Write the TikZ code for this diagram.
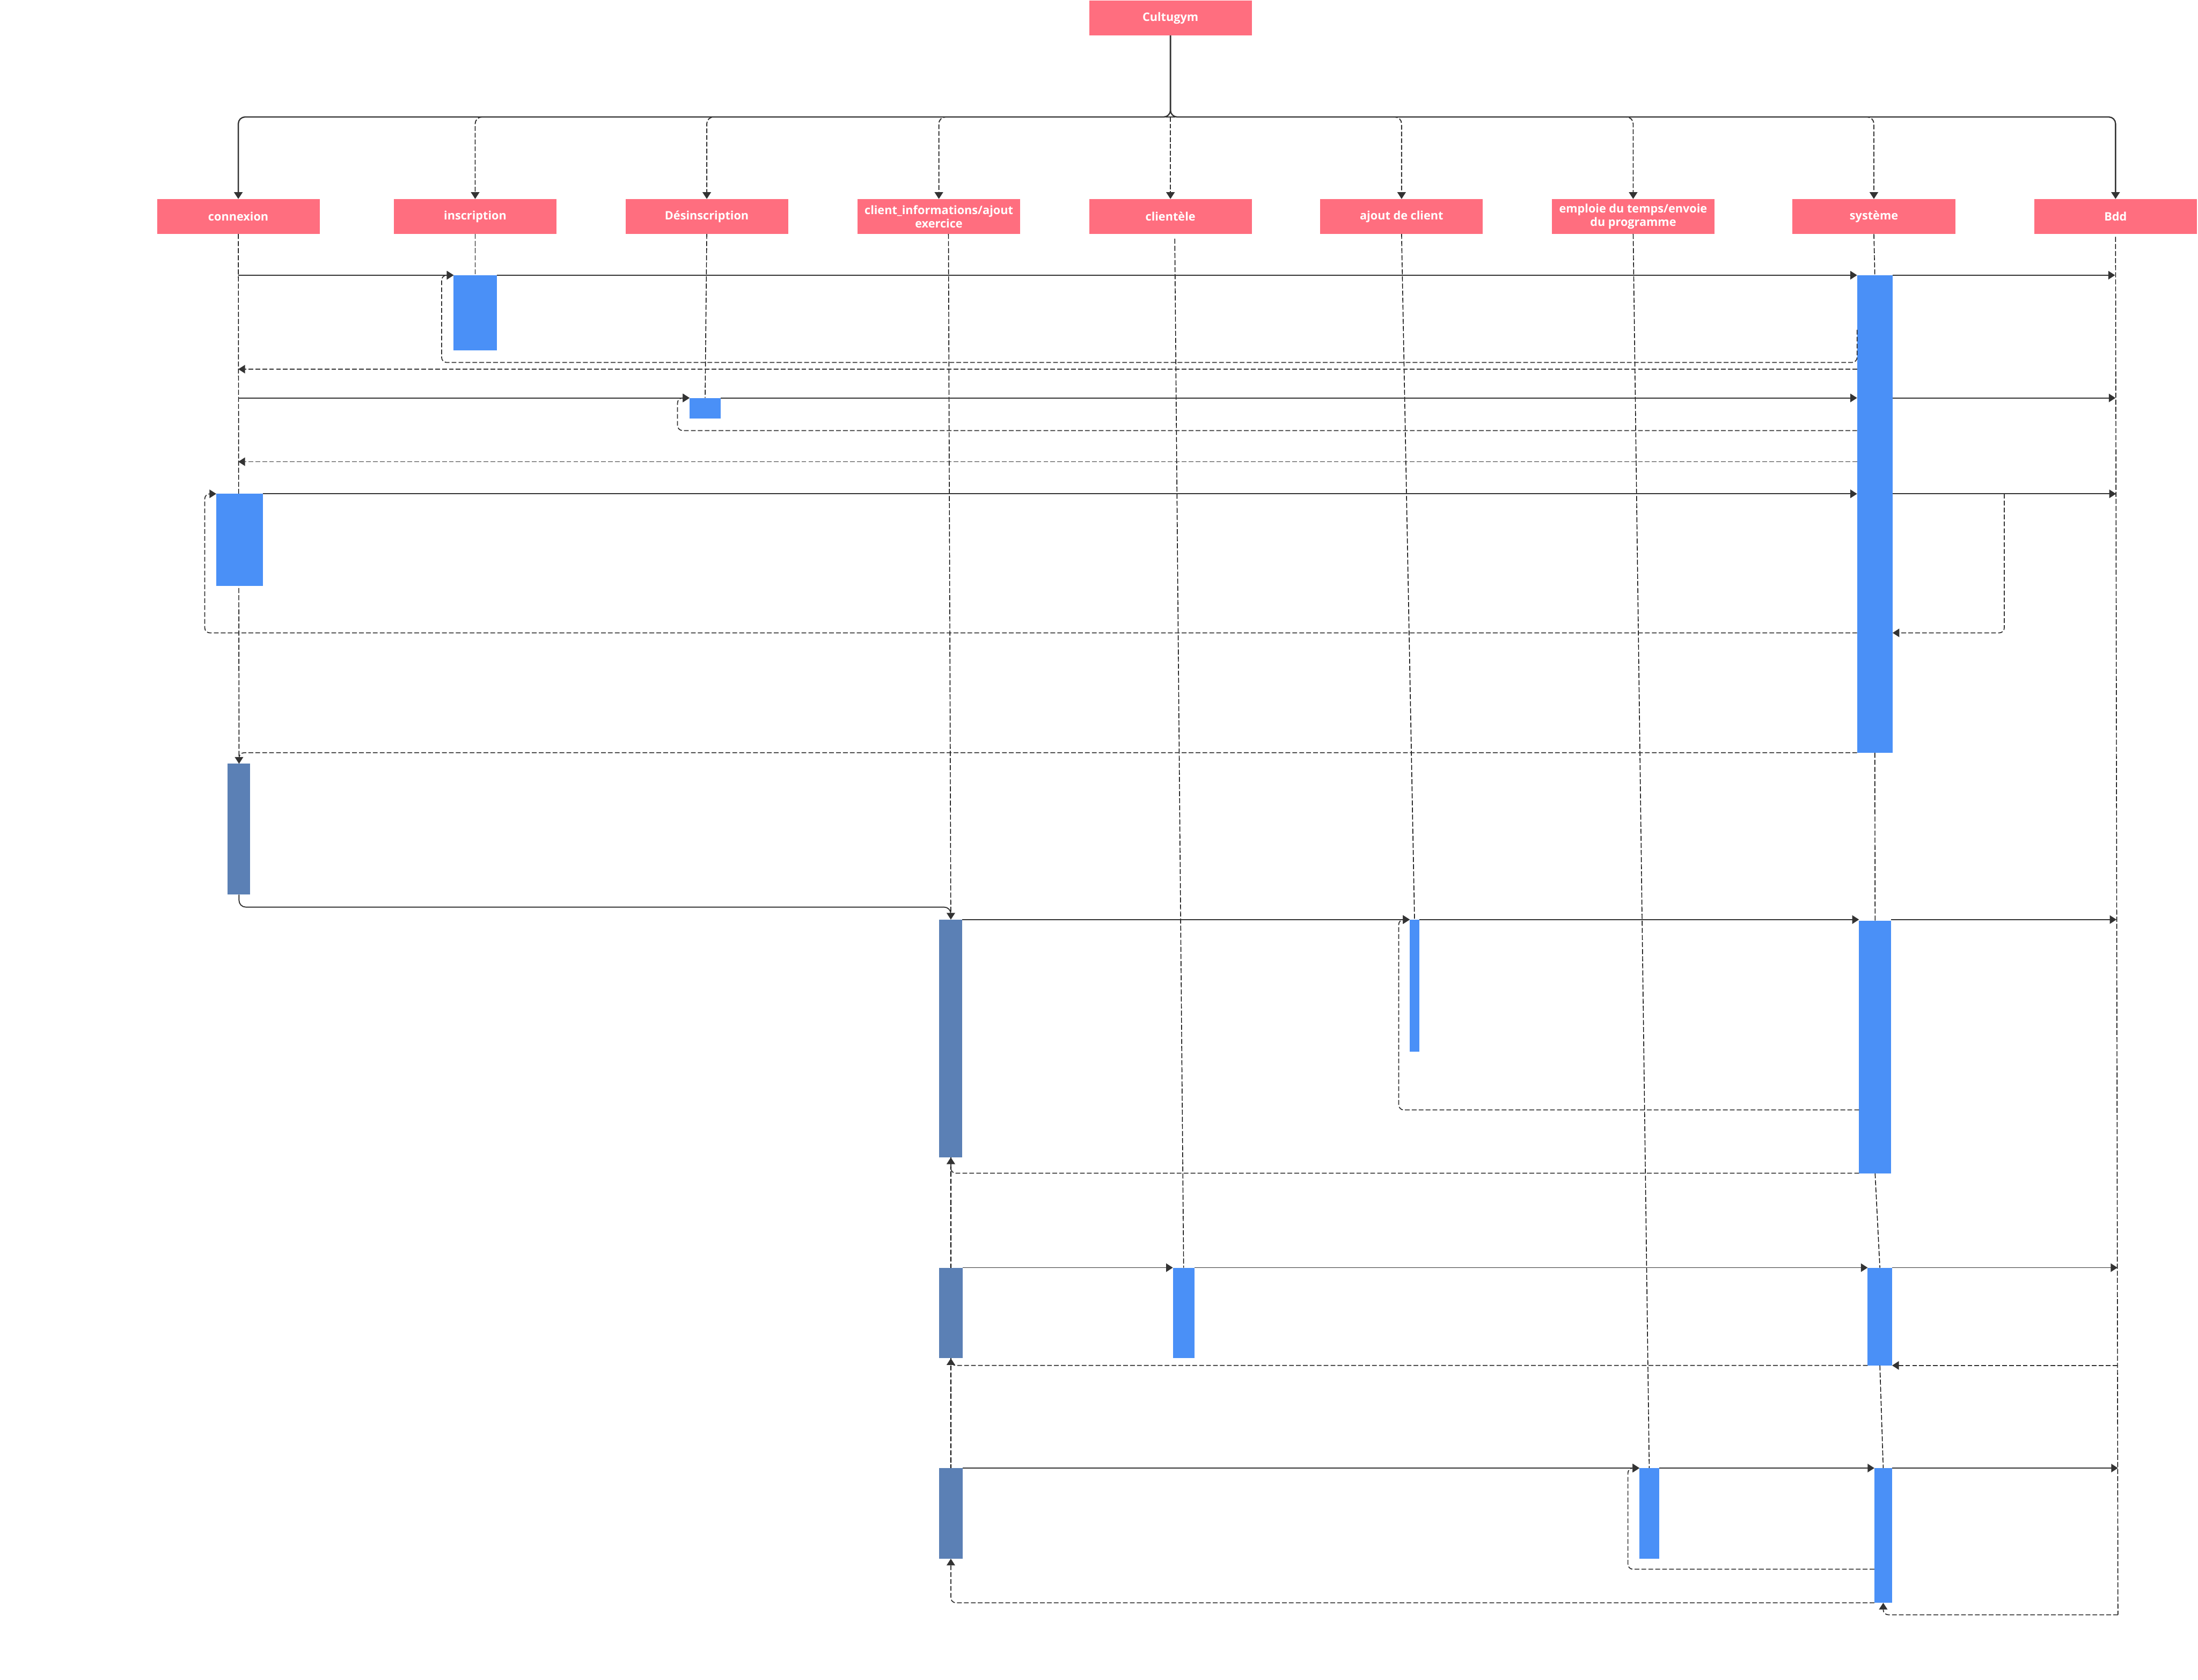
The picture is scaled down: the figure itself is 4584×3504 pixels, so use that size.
\documentclass[tikz,border=0pt]{standalone}
\usepackage{fontspec}
\setmainfont{Open Sans}
\usetikzlibrary{arrows.meta,fit,calc,backgrounds}
\definecolor{hdr}{HTML}{FF6E7F}
\definecolor{actl}{HTML}{4A90F7}
\definecolor{actd}{HTML}{5B80B5}
\definecolor{ln}{HTML}{333333}
\begin{document}
\begin{tikzpicture}[x=0.01cm,y=-0.01cm,
  hdr/.style={fill=hdr,text=white,font=\fontsize{6.9}{6.6}\selectfont\bfseries,
    minimum width=3.39cm,minimum height=0.73cm,inner sep=0pt,outer sep=0pt,align=center},
  actbox/.style={inner sep=0pt,outer sep=0pt,fill=actl},
  actdark/.style={inner sep=0pt,outer sep=0pt,fill=actd},
  tip/.style={-{Triangle[length=4pt,width=5pt]}},
  msg/.style={draw=ln,line width=0.6pt,tip},
  ret/.style={draw=ln,line width=0.55pt,dash pattern=on 2.8pt off 1.3pt,rounded corners=3pt,tip},
  bus/.style={draw=ln,line width=0.75pt,rounded corners=4pt,tip},
  busd/.style={draw=ln,line width=0.6pt,dash pattern=on 2.8pt off 1.2pt,rounded corners=4pt,tip},
  life/.style={draw=black,line width=0.45pt,dash pattern=on 3pt off 1.2pt}]
\useasboundingbox (0,0) rectangle (4584,3504);

% headers
\node[hdr] (cg) at (2441,37.5) {Cultugym};
\node[hdr] (conn) at (497,451.5) {connexion};
\node[hdr] (insc) at (991,451.5) {inscription};
\node[hdr] (des) at (1474,451.5) {Désinscription};
\node[hdr] (cli) at (1958,451.5) {client\_informations/ajout\\exercice};
\node[hdr] (clie) at (2441,451.5) {clientèle};
\node[hdr] (aj) at (2923,451.5) {ajout de client};
\node[hdr] (emp) at (3406,451.5) {emploie du temps/envoie\\du programme};
\node[hdr] (sys) at (3908,451.5) {système};
\node[hdr] (bdd) at (4412,451.5) {Bdd};

% bus from Cultugym
\coordinate (busc) at (2441,244);
\draw[bus] (cg.south) -- (busc) -| (conn.north);
\draw[bus] (cg.south) -- (busc) -| (bdd.north);
\draw[busd] (busc) -| (insc.north);
\draw[busd] (busc) -| (des.north);
\draw[busd] (busc) -| (cli.north);
\draw[busd] (busc) -- (clie.north);
\draw[busd] (busc) -| (aj.north);
\draw[busd] (busc) -| (emp.north);
\draw[busd] (busc) -| (sys.north);

% activations
\node[actbox,fit={(946,574) (1036,731)}] (inscA) {};
\node[actbox,fit={(3873,574) (3947,1570)}] (sysA1) {};
\node[actbox,fit={(1438,830) (1503,873)}] (desA) {};
\node[actbox,fit={(451,1030) (548,1222)}] (connA) {};
\node[actdark,fit={(475,1593) (522,1866)}] (connD) {};
\node[actdark,fit={(1959,1918) (2007,2414)}] (cliD1) {};
\node[actbox,fit={(2940,1918) (2960,2194)}] (ajA) {};
\node[actbox,fit={(3877,1920) (3944,2447)}] (sysA2) {};
\node[actdark,fit={(1958,2644) (2008,2833)}] (cliD2) {};
\node[actbox,fit={(2446,2644) (2491,2833)}] (clieA) {};
\node[actbox,fit={(3895,2644) (3946,2848)}] (sysA3) {};
\node[actdark,fit={(1958,3062) (2008,3251)}] (cliD3) {};
\node[actbox,fit={(3419,3062) (3460,3251)}] (empA) {};
\node[actbox,fit={(3909,3062) (3946,3343)}] (sysA4) {};

% lifelines
\begin{scope}[on background layer]
\fill[white] (0,0) rectangle (4584,3504);
\draw[life] (conn.south) -- (connD.north);
\draw[life] (insc.south) -- (inscA.north);
\draw[life] (des.south) -- (desA.north);
\draw[life] ($(cli.south)+(20,0)$) -- (cliD1.north);
\draw[life] (cliD1.south) -- (cliD2.north);
\draw[life] (cliD2.south) -- (cliD3.north);
\draw[life] ($(clie.south)+(9,10)$) -- (clieA.north);
\draw[life] (aj.south) -- (ajA.north);
\draw[life] (emp.south) -- (empA.north);
\draw[life] (sys.south) -- (sysA1.north);
\draw[life] (sysA1.south) -- (sysA2.north);
\draw[life] (sysA2.south) -- (sysA3.north);
\draw[life] (sysA3.south) -- (sysA4.north);
\coordinate (bddEnd) at (4417,3368);
\draw[life] ($(bdd.south)+(0,6)$) -- (bddEnd);
\end{scope}

% messages, row 1
\draw[msg] (conn.south |- 0,574) -- (inscA.north west);
\draw[msg] (inscA.north east) -- (sysA1.north west);
\draw[msg] (sysA1.north east) -- (4411,574);
\draw[ret] (sysA1.west |- 0,688) |- (921,756) |- (inscA.north west);
\draw[ret] (sysA1.west |- 0,770) -- (conn.south |- 0,770);

% row 2
\draw[msg] (conn.south |- 0,830) -- (desA.north west);
\draw[msg] (desA.north east) -- (sysA1.west |- desA.north);
\draw[msg] (sysA1.east |- desA.north) -- (4412,830);
\draw[ret] (sysA1.west |- 0,898) -- (1413,898) |- (desA.north west);
\draw[ret] (sysA1.west |- 0,963) -- (conn.south |- 0,963);

% row 3
\draw[msg] (connA.north east) -- (sysA1.west |- connA.north);
\draw[msg] (sysA1.east |- connA.north) -- (4413,1030);
\coordinate (bddRet1) at (4180,1030);
\draw[ret] (bddRet1) |- (sysA1.east |- 0,1320);
\draw[ret] (sysA1.west |- 0,1320) -- (427,1320) |- (connA.north west);

% row 4
\draw[ret] (sysA1.south west) -| (connD.north);
\draw[msg,rounded corners=4pt] (connD.south) -- ++(0,26) -| (cliD1.north);

% row 5
\draw[msg] (cliD1.north east) -- (ajA.north west);
\draw[msg] (ajA.north east) -- (sysA2.west |- ajA.north);
\draw[msg] (sysA2.east |- ajA.north) -- (4414,1918);
\draw[ret] (sysA2.west |- 0,2315) -- (2917,2315) |- (ajA.north west);
\draw[ret] (sysA2.south west) -| (cliD1.south);

% row 6
\draw[msg] (cliD2.north east) -- (clieA.north west);
\draw[msg] (clieA.north east) -- (sysA3.north west);
\draw[msg] (sysA3.north east) -- (4416,2644);
\draw[ret] (4416,2848) -- (sysA3.south east);
\draw[ret] (sysA3.south west) -| (cliD2.south);

% row 7
\draw[msg] (cliD3.north east) -- (empA.north west);
\draw[msg] (empA.north east) -- (sysA4.north west);
\draw[msg] (sysA4.north east) -- (4417,3062);
\draw[ret] (sysA4.west |- 0,3273) -- (3395,3273) |- (empA.north west);
\draw[ret] (sysA4.south west) -| (cliD3.south);
\draw[ret] (bddEnd) -| (sysA4.south);
\end{tikzpicture}
\end{document}
